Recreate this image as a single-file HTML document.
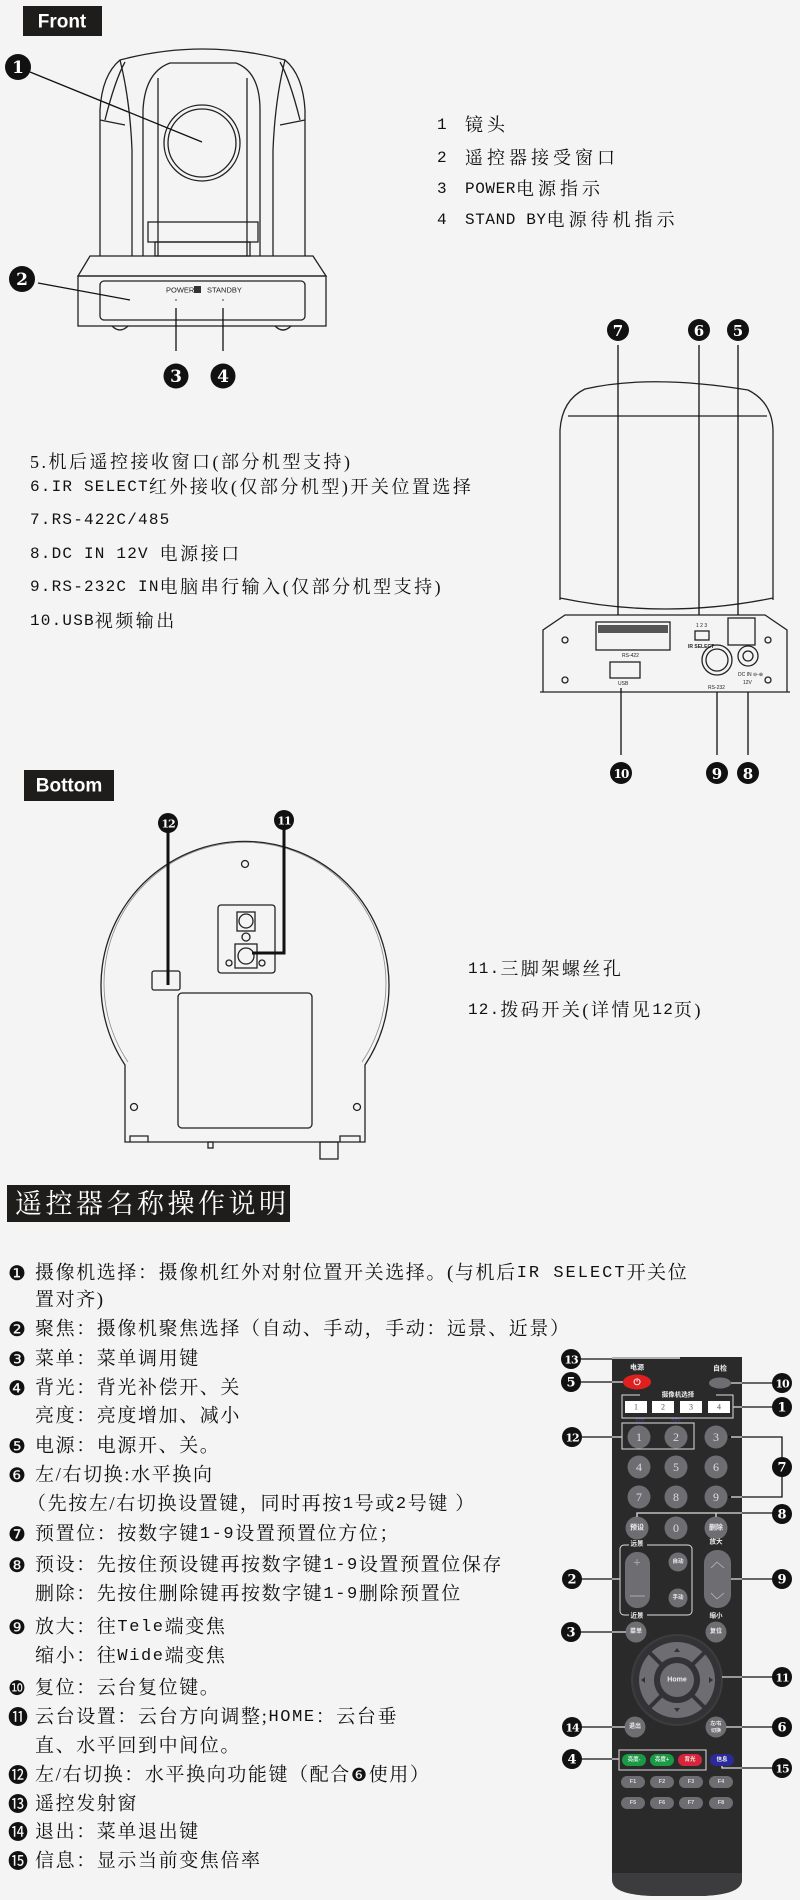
<!DOCTYPE html>
<html><head><meta charset="utf-8"><style>
html,body{margin:0;padding:0;background:#f4f4f4;}
svg{display:block;}
.cn{font-family:"Liberation Serif","Noto Serif CJK SC",serif;fill:#111;}
.m{font-family:"Liberation Mono","Noto Sans CJK SC",monospace;}
.t1{font-size:18px;letter-spacing:4px;}
.t2{font-size:18px;letter-spacing:2.5px;}
.ins{font-family:"Liberation Serif","Noto Serif CJK SC",serif;font-size:19px;letter-spacing:1.6px;fill:#111;}
.bul{font-family:"DejaVu Sans",sans-serif;font-size:20px;fill:#111;}
.sm{font-family:"Liberation Sans",sans-serif;fill:#222;}
.mk{fill:#111;}
.mt{font-family:"DejaVu Serif",serif;font-weight:bold;fill:#fff;text-anchor:middle;}
.bt{fill:#6d6d72;}
.btx{font-family:"Liberation Sans","Noto Sans CJK SC",sans-serif;fill:#eee;text-anchor:middle;font-weight:bold;}
</style></head><body>
<svg width="800" height="1900" viewBox="0 0 800 1900" xmlns="http://www.w3.org/2000/svg" dominant-baseline="central">
<rect width="800" height="1900" fill="#f4f4f4"/>

<!-- FRONT -->
<rect x="23" y="6" width="79" height="30" fill="#1f1d1b"/>
<text x="62" y="22" text-anchor="middle" font-family="Liberation Sans,sans-serif" font-weight="bold" font-size="19" fill="#fff">Front</text>
<g fill="none" stroke="#222" stroke-width="1.3">
<path d="M100,256 L100,110 Q102,75 120,60 Q203,38 285,60 Q303,75 305,110 L305,256"/>
<path d="M105,120 Q115,80 125,62 M300,120 Q290,80 280,62"/>
<path d="M132,256 L132,150 Q130,100 120,60 M273,256 L273,150 Q275,100 285,60"/>
<path d="M143,256 L143,110 Q145,72 170,63 L236,63 Q260,72 260,110 L260,256"/>
<path d="M158,256 L158,78 M247,256 L247,78"/>
<path d="M100,120 L125,125 M305,120 L280,125"/>
<circle cx="202" cy="143" r="38"/><circle cx="202" cy="143" r="34"/>
<rect x="148" y="222" width="110" height="20"/>
<rect x="155" y="242" width="95" height="14"/>
<path d="M90,256 L313,256 L326,276 L78,276 Z"/>
<rect x="78" y="276" width="248" height="50"/>
<rect x="100" y="281" width="205" height="39" rx="4"/>
<path d="M112,326 Q120,334 128,326 M275,326 Q283,334 291,326"/>
</g>
<text x="166" y="290" class="sm" font-size="7.5">POWER</text>
<rect x="194" y="286" width="7" height="7" fill="#333"/>
<text x="207" y="290" class="sm" font-size="7.5">STANDBY</text>
<g stroke="#111" stroke-width="1.3">
<line x1="30" y1="72" x2="202" y2="142"/>
<line x1="38" y1="283" x2="130" y2="300"/>
<line x1="176" y1="308" x2="176" y2="351"/>
<line x1="223" y1="308" x2="223" y2="351"/>
</g>
<circle cx="176" cy="300" r="0.8" fill="#333"/><circle cx="223" cy="300" r="0.8" fill="#333"/>
<circle cx="18" cy="67" r="13" class="mk"/><text x="18" y="68" class="mt" font-size="17" font-weight="normal">1</text>
<circle cx="22" cy="279" r="13" class="mk"/><text x="22" y="280" class="mt" font-size="17" font-weight="normal">2</text>
<circle cx="176" cy="376" r="12.5" class="mk"/><text x="176" y="377" class="mt" font-size="17" font-weight="normal">3</text>
<circle cx="223" cy="376" r="12.5" class="mk"/><text x="223" y="377" class="mt" font-size="17" font-weight="normal">4</text>

<text x="437" y="125" class="cn m" font-size="16">1</text><text x="465" y="125" class="cn t1">镜头</text>
<text x="437" y="158" class="cn m" font-size="16">2</text><text x="465" y="158" class="cn t1">遥控器接受窗口</text>
<text x="437" y="189" class="cn m" font-size="16">3</text><text x="465" y="189" class="cn t1"><tspan class="m" font-size="16" letter-spacing="0.6">POWER</tspan>电源指示</text>
<text x="437" y="220" class="cn m" font-size="16">4</text><text x="465" y="220" class="cn t1"><tspan class="m" font-size="16" letter-spacing="0.6">STAND BY</tspan>电源待机指示</text>

<!-- REAR -->
<g fill="none" stroke="#222" stroke-width="1.3">
<path d="M560,600 L560,430 Q562,400 585,389 Q650,374 748,390 Q772,402 773,430 L773,600"/>
<path d="M568,416 L767,416"/>
<path d="M560,598 Q666,620 773,598"/>
<path d="M543,692 L543,630 L565,615 L765,615 L787,630 L787,692"/>
<path d="M540,692 L790,692"/>
<rect x="596" y="622" width="74" height="28"/>
<rect x="695" y="631" width="14" height="9"/>
<rect x="728" y="618" width="27" height="27"/>
<rect x="610" y="662" width="30" height="16"/>
<circle cx="717" cy="660" r="15"/><circle cx="717" cy="660" r="11"/>
<circle cx="748" cy="656" r="10"/><circle cx="748" cy="656" r="5"/>
<circle cx="565" cy="640" r="3"/><circle cx="768" cy="640" r="3"/>
<circle cx="565" cy="680" r="3"/><circle cx="768" cy="680" r="3"/>
</g>
<g fill="#555"><rect x="598" y="625" width="70" height="8"/></g>
<text x="622" y="656" class="sm" font-size="5">RS-422</text>
<text x="696" y="626" class="sm" font-size="5">1 2 3</text>
<text x="688" y="647" class="sm" font-size="5" font-weight="bold">IR SELECT</text>
<text x="618" y="684" class="sm" font-size="5">USB</text>
<text x="708" y="688" class="sm" font-size="5">RS-232</text>
<text x="738" y="675" class="sm" font-size="5">DC IN ⊖-⊕</text>
<text x="743" y="683" class="sm" font-size="5">12V</text>
<g stroke="#111" stroke-width="1.3">
<line x1="618" y1="345" x2="618" y2="615"/>
<line x1="699" y1="345" x2="699" y2="615"/>
<line x1="738" y1="345" x2="738" y2="615"/>
<line x1="621" y1="688" x2="621" y2="755"/>
<line x1="717" y1="692" x2="717" y2="755"/>
<line x1="748" y1="692" x2="748" y2="755"/>
</g>
<g>
<circle cx="618" cy="330" r="11" class="mk"/><text x="618" y="331" class="mt" font-size="15">7</text>
<circle cx="699" cy="330" r="11" class="mk"/><text x="699" y="331" class="mt" font-size="15">6</text>
<circle cx="738" cy="330" r="11" class="mk"/><text x="738" y="331" class="mt" font-size="15">5</text>
<circle cx="621" cy="773" r="11" class="mk"/><text x="621" y="774" class="mt" font-size="12" letter-spacing="-1">10</text>
<circle cx="717" cy="773" r="11" class="mk"/><text x="717" y="774" class="mt" font-size="15">9</text>
<circle cx="748" cy="773" r="11" class="mk"/><text x="748" y="774" class="mt" font-size="15">8</text>
</g>

<text x="30" y="462" class="cn t2">5.机后遥控接收窗口(部分机型支持)</text>
<text x="30" y="487" class="cn t2"><tspan class="m" font-size="16" letter-spacing="1.2">6.IR SELECT</tspan>红外接收(仅部分机型)开关位置选择</text>
<text x="30" y="520" class="cn t2"><tspan class="m" font-size="16" letter-spacing="1.2">7.RS-422C/485</tspan></text>
<text x="30" y="554" class="cn t2"><tspan class="m" font-size="16" letter-spacing="1.2">8.DC IN 12V </tspan>电源接口</text>
<text x="30" y="587" class="cn t2"><tspan class="m" font-size="16" letter-spacing="1.2">9.RS-232C IN</tspan>电脑串行输入(仅部分机型支持)</text>
<text x="30" y="621" class="cn t2"><tspan class="m" font-size="16" letter-spacing="1.2">10.USB</tspan>视频输出</text>

<!-- BOTTOM -->
<rect x="24" y="770" width="90" height="31" fill="#1f1d1b"/>
<text x="69" y="786" text-anchor="middle" font-family="Liberation Sans,sans-serif" font-weight="bold" font-size="19" fill="#fff">Bottom</text>
<g fill="none" stroke="#222" stroke-width="1.3">
<path d="M125,1142 L125,1065 A144,144 0 1 1 365,1065 L365,1142 Z"/>
<path d="M128,1062 A141,141 0 1 1 362,1062" stroke="#888" stroke-width="0.8"/>
<rect x="218" y="905" width="57" height="68" rx="3"/>
<rect x="237" y="912" width="18" height="19"/><circle cx="246" cy="921" r="7"/>
<circle cx="246" cy="937" r="4"/>
<rect x="235" y="944" width="22" height="24"/><circle cx="246" cy="956" r="8"/>
<circle cx="229" cy="963" r="3"/><circle cx="262" cy="963" r="3"/>
<rect x="152" y="971" width="28" height="19" rx="2"/>
<rect x="178" y="993" width="134" height="135" rx="4"/>
<circle cx="134" cy="1107" r="3.5"/><circle cx="357" cy="1107" r="3.5"/><circle cx="245" cy="864" r="3.5"/>
<path d="M130,1142 L130,1136 L148,1136 L148,1142 M340,1142 L340,1136 L360,1136 L360,1142"/>
<rect x="320" y="1142" width="18" height="17"/>
<rect x="208" y="1142" width="5" height="6"/>
</g>
<g stroke="#111" stroke-width="3" fill="none">
<line x1="168" y1="830" x2="168" y2="985"/>
<path d="M284,828 L284,953 L252,953"/>
</g>
<circle cx="168" cy="823" r="10" class="mk"/><text x="168" y="824" class="mt" font-size="11" letter-spacing="-1">12</text>
<circle cx="284" cy="820" r="10" class="mk"/><text x="284" y="821" class="mt" font-size="11" letter-spacing="-1">11</text>

<text x="468" y="969" class="cn t2"><tspan class="m" font-size="16" letter-spacing="1.2">11.</tspan>三脚架螺丝孔</text>
<text x="468" y="1010" class="cn t2"><tspan class="m" font-size="16" letter-spacing="1.2">12.</tspan>拨码开关(详情见<tspan class="m" font-size="16" letter-spacing="1.2">12</tspan>页)</text>

<!-- HEADER -->
<rect x="7" y="1185" width="283" height="37" fill="#1f1d1b"/>
<text x="15" y="1204" font-family="Liberation Serif,'Noto Serif CJK SC',serif" font-size="27" letter-spacing="3.5" fill="#fff">遥控器名称操作说明</text>

<!-- INSTRUCTIONS -->
<g>
<text x="8" y="1273" class="bul">❶</text><text x="35" y="1273" class="ins">摄像机选择：摄像机红外对射位置开关选择。(与机后<tspan class="m" font-size="17" letter-spacing="2">IR SELECT</tspan>开关位</text>
<text x="35" y="1300" class="ins">置对齐)</text>
<text x="8" y="1329" class="bul">❷</text><text x="35" y="1329" class="ins">聚焦：摄像机聚焦选择（自动、手动，手动：远景、近景）</text>
<text x="8" y="1359" class="bul">❸</text><text x="35" y="1359" class="ins">菜单：菜单调用键</text>
<text x="8" y="1388" class="bul">❹</text><text x="35" y="1388" class="ins">背光：背光补偿开、关</text>
<text x="35" y="1416" class="ins">亮度：亮度增加、减小</text>
<text x="8" y="1446" class="bul">❺</text><text x="35" y="1446" class="ins">电源：电源开、关。</text>
<text x="8" y="1475" class="bul">❻</text><text x="35" y="1475" class="ins">左/右切换:水平换向</text>
<text x="27" y="1504" class="ins">（先按左/右切换设置键，同时再按<tspan class="m" font-size="17">1</tspan>号或<tspan class="m" font-size="17">2</tspan>号键 ）</text>
<text x="8" y="1534" class="bul">❼</text><text x="35" y="1534" class="ins">预置位：按数字键<tspan class="m" font-size="17">1-9</tspan>设置预置位方位；</text>
<text x="8" y="1565" class="bul">❽</text><text x="35" y="1565" class="ins">预设：先按住预设键再按数字键<tspan class="m" font-size="17">1-9</tspan>设置预置位保存</text>
<text x="35" y="1594" class="ins">删除：先按住删除键再按数字键<tspan class="m" font-size="17">1-9</tspan>删除预置位</text>
<text x="8" y="1627" class="bul">❾</text><text x="35" y="1627" class="ins">放大：往<tspan class="m" font-size="17">Tele</tspan>端变焦</text>
<text x="35" y="1656" class="ins">缩小：往<tspan class="m" font-size="17">Wide</tspan>端变焦</text>
<text x="8" y="1688" class="bul">❿</text><text x="35" y="1688" class="ins">复位：云台复位键。</text>
<text x="8" y="1717" class="bul">⓫</text><text x="35" y="1717" class="ins">云台设置：云台方向调整;<tspan class="m" font-size="17">HOME</tspan>：云台垂</text>
<text x="35" y="1746" class="ins">直、水平回到中间位。</text>
<text x="8" y="1775" class="bul">⓬</text><text x="35" y="1775" class="ins">左/右切换：水平换向功能键（配合<tspan font-family="DejaVu Sans,sans-serif" font-size="18">❻</tspan>使用）</text>
<text x="8" y="1804" class="bul">⓭</text><text x="35" y="1804" class="ins">遥控发射窗</text>
<text x="8" y="1832" class="bul">⓮</text><text x="35" y="1832" class="ins">退出：菜单退出键</text>
<text x="8" y="1861" class="bul">⓯</text><text x="35" y="1861" class="ins">信息：显示当前变焦倍率</text>
</g>

<!-- REMOTE -->
<path d="M612,1357 L742,1357 L742,1878 Q742,1895 700,1896 L654,1896 Q612,1895 612,1878 Z" fill="#2a2a2b"/>
<path d="M612,1873 L742,1873 L742,1880 Q742,1895 700,1896 L654,1896 Q612,1895 612,1880 Z" fill="#3c3c3e"/>
<line x1="612" y1="1358" x2="680" y2="1358" stroke="#ddd" stroke-width="1.5"/>
<text x="637" y="1368" class="btx" font-size="7">电源</text>
<text x="720" y="1369" class="btx" font-size="7">自检</text>
<ellipse cx="637" cy="1382" rx="14" ry="7.5" fill="#e0201f"/>
<text x="637" y="1382" class="btx" font-size="9" fill="#fff">⏻</text>
<ellipse cx="720" cy="1383" rx="11" ry="5.5" class="bt"/>
<rect x="622" y="1395" width="111" height="23" fill="none" stroke="#ddd" stroke-width="1"/>
<rect x="640" y="1392" width="76" height="6" fill="#2a2a2b"/>
<text x="678" y="1395" class="btx" font-size="6.5">摄像机选择</text>
<g fill="#fff"><rect x="625" y="1401" width="22" height="12"/><rect x="652" y="1401" width="22" height="12"/><rect x="680" y="1401" width="22" height="12"/><rect x="708" y="1401" width="22" height="12"/></g>
<g font-family="Liberation Serif,serif" font-size="8" fill="#555" text-anchor="middle"><text x="636" y="1407">1</text><text x="663" y="1407">2</text><text x="691" y="1407">3</text><text x="719" y="1407">4</text></g>
<text x="640" y="1420" font-family="Liberation Sans,sans-serif" font-size="4.5" fill="#44a" text-anchor="middle">STD</text>
<text x="676" y="1420" font-family="Liberation Sans,sans-serif" font-size="4.5" fill="#44a" text-anchor="middle">REV</text>
<rect x="622" y="1423" width="72" height="26" fill="none" stroke="#ddd" stroke-width="1"/>
<g class="bt">
<circle cx="639" cy="1437" r="11.5"/><circle cx="676" cy="1437" r="11.5"/><circle cx="716" cy="1437" r="11.5"/>
<circle cx="639" cy="1467" r="11.5"/><circle cx="676" cy="1467" r="11.5"/><circle cx="716" cy="1467" r="11.5"/>
<circle cx="639" cy="1497" r="11.5"/><circle cx="676" cy="1497" r="11.5"/><circle cx="716" cy="1497" r="11.5"/>
<circle cx="637" cy="1528" r="11.5"/><circle cx="676" cy="1528" r="11.5"/><circle cx="716" cy="1528" r="11.5"/>
</g>
<g font-family="Liberation Serif,serif" font-size="12" fill="#ddd" text-anchor="middle">
<text x="639" y="1437">1</text><text x="676" y="1437">2</text><text x="716" y="1437">3</text>
<text x="639" y="1467">4</text><text x="676" y="1467">5</text><text x="716" y="1467">6</text>
<text x="639" y="1497">7</text><text x="676" y="1497">8</text><text x="716" y="1497">9</text>
<text x="676" y="1528">0</text></g>
<text x="637" y="1528" class="btx" font-size="7">预设</text><text x="716" y="1528" class="btx" font-size="7">删除</text>
<rect x="620" y="1545" width="72" height="70" rx="4" fill="none" stroke="#ddd" stroke-width="1"/>
<rect x="629" y="1540" width="18" height="8" fill="#2a2a2b"/><rect x="629" y="1612" width="18" height="8" fill="#2a2a2b"/>
<text x="637" y="1544" class="btx" font-size="6.5">远景</text><text x="637" y="1616" class="btx" font-size="6.5">近景</text>
<text x="716" y="1542" class="btx" font-size="6.5">放大</text><text x="716" y="1616" class="btx" font-size="6.5">缩小</text>
<rect x="625" y="1552" width="25" height="56" rx="12" class="bt"/>
<text x="637" y="1562" font-family="Liberation Sans,sans-serif" font-size="13" fill="#aaa" text-anchor="middle">+</text>
<line x1="630" y1="1596" x2="645" y2="1596" stroke="#aaa"/>
<circle cx="678" cy="1562" r="9.5" class="bt"/><circle cx="678" cy="1598" r="9.5" class="bt"/>
<text x="678" y="1562" class="btx" font-size="5.5">自动</text><text x="678" y="1598" class="btx" font-size="5.5">手动</text>
<rect x="704" y="1550" width="27" height="58" rx="13" class="bt"/>
<path d="M711,1568 L717,1562 L724,1568 M711,1593 L717,1599 L724,1593" stroke="#aaa" fill="none"/>
<circle cx="636" cy="1632" r="10.5" class="bt"/><circle cx="716" cy="1632" r="10.5" class="bt"/>
<text x="636" y="1632" class="btx" font-size="6">菜单</text><text x="716" y="1632" class="btx" font-size="6">复位</text>
<circle cx="677" cy="1680" r="45" fill="#333335" stroke="#3d3d40" stroke-width="2"/>
<circle cx="677" cy="1680" r="38" class="bt"/>
<g stroke="#333335" stroke-width="4"><line x1="650" y1="1653" x2="704" y2="1707"/><line x1="704" y1="1653" x2="650" y2="1707"/></g>
<circle cx="677" cy="1680" r="23" fill="#333335"/>
<circle cx="677" cy="1680" r="17" class="bt"/>
<text x="677" y="1680" class="btx" font-size="7">Home</text>
<g fill="#333"><path d="M674,1652 L680,1652 L677,1648Z"/><path d="M674,1708 L680,1708 L677,1712Z"/><path d="M645,1677 L645,1683 L641,1680Z"/><path d="M709,1677 L709,1683 L713,1680Z"/></g>
<circle cx="635" cy="1727" r="10.5" class="bt"/><circle cx="716" cy="1727" r="10.5" class="bt"/>
<text x="635" y="1727" class="btx" font-size="6">退出</text>
<text x="716" y="1724" class="btx" font-size="5">左/右</text><text x="716" y="1731" class="btx" font-size="5">切换</text>
<rect x="619" y="1750" width="87" height="20" fill="none" stroke="#ddd" stroke-width="1"/>
<rect x="622" y="1754" width="24" height="12" rx="6" fill="#1a9a45"/><rect x="650" y="1754" width="24" height="12" rx="6" fill="#1a9a45"/>
<rect x="678" y="1754" width="24" height="12" rx="6" fill="#d7263a"/><rect x="710" y="1754" width="24" height="12" rx="6" fill="#2a2a9a"/>
<text x="634" y="1760" class="btx" font-size="5.5">亮度-</text><text x="662" y="1760" class="btx" font-size="5.5">亮度+</text>
<text x="690" y="1760" class="btx" font-size="5.5">背光</text><text x="722" y="1760" class="btx" font-size="5.5">信息</text>
<g class="bt">
<rect x="621" y="1776" width="24" height="12" rx="6"/><rect x="650" y="1776" width="24" height="12" rx="6"/><rect x="679" y="1776" width="24" height="12" rx="6"/><rect x="709" y="1776" width="24" height="12" rx="6"/>
<rect x="621" y="1797" width="24" height="12" rx="6"/><rect x="650" y="1797" width="24" height="12" rx="6"/><rect x="679" y="1797" width="24" height="12" rx="6"/><rect x="709" y="1797" width="24" height="12" rx="6"/>
</g>
<g font-family="Liberation Sans,sans-serif" font-size="5.5" font-weight="bold" fill="#ddd" text-anchor="middle">
<text x="633" y="1782">F1</text><text x="662" y="1782">F2</text><text x="691" y="1782">F3</text><text x="721" y="1782">F4</text>
<text x="633" y="1803">F5</text><text x="662" y="1803">F6</text><text x="691" y="1803">F7</text><text x="721" y="1803">F8</text></g>

<!-- remote callouts -->
<g stroke="#111" stroke-width="1.3" fill="none">
<line x1="571" y1="1359" x2="612" y2="1359"/>
<line x1="571" y1="1382" x2="623" y2="1382"/>
<line x1="731" y1="1383" x2="782" y2="1383"/>
<line x1="733" y1="1407" x2="782" y2="1407"/>
<line x1="572" y1="1437" x2="622" y2="1437"/>
<path d="M728,1437 L782,1437 L782,1497 L728,1497"/>
<line x1="572" y1="1579" x2="620" y2="1579"/>
<line x1="731" y1="1579" x2="782" y2="1579"/>
<line x1="571" y1="1632" x2="626" y2="1632"/>
<line x1="722" y1="1677" x2="782" y2="1677"/>
<line x1="572" y1="1727" x2="625" y2="1727"/>
<line x1="726" y1="1727" x2="782" y2="1727"/>
<line x1="572" y1="1759" x2="619" y2="1759"/>
</g>
<g stroke="#ddd" stroke-width="1.3" fill="none">
<path d="M637,1517 L637,1513 L742,1513 M716,1513 L716,1517"/>
<path d="M722,1766 L722,1768 L742,1768"/>
<line x1="731" y1="1437" x2="742" y2="1437"/><line x1="731" y1="1497" x2="742" y2="1497"/>
<line x1="733" y1="1407" x2="742" y2="1407"/><line x1="731" y1="1383" x2="742" y2="1383"/>
<line x1="731" y1="1579" x2="742" y2="1579"/><line x1="722" y1="1677" x2="742" y2="1677"/>
<line x1="726" y1="1727" x2="742" y2="1727"/>
<line x1="612" y1="1382" x2="623" y2="1382"/><line x1="612" y1="1437" x2="622" y2="1437"/>
<line x1="612" y1="1579" x2="620" y2="1579"/><line x1="612" y1="1632" x2="626" y2="1632"/>
<line x1="612" y1="1727" x2="625" y2="1727"/><line x1="612" y1="1759" x2="619" y2="1759"/>
</g>
<g stroke="#111" stroke-width="1.3"><line x1="742" y1="1513" x2="782" y2="1513"/><line x1="742" y1="1768" x2="782" y2="1768"/></g>
<g>
<circle cx="571" cy="1359" r="10" class="mk"/><text x="571" y="1360" class="mt" font-size="11" letter-spacing="-1">13</text>
<circle cx="571" cy="1382" r="10" class="mk"/><text x="571" y="1383" class="mt" font-size="13">5</text>
<circle cx="782" cy="1383" r="10" class="mk"/><text x="782" y="1384" class="mt" font-size="11" letter-spacing="-1">10</text>
<circle cx="782" cy="1407" r="10" class="mk"/><text x="782" y="1408" class="mt" font-size="13">1</text>
<circle cx="572" cy="1437" r="10" class="mk"/><text x="572" y="1438" class="mt" font-size="11" letter-spacing="-1">12</text>
<circle cx="782" cy="1467" r="10" class="mk"/><text x="782" y="1468" class="mt" font-size="13">7</text>
<circle cx="782" cy="1514" r="10" class="mk"/><text x="782" y="1515" class="mt" font-size="13">8</text>
<circle cx="572" cy="1579" r="10" class="mk"/><text x="572" y="1580" class="mt" font-size="13">2</text>
<circle cx="782" cy="1579" r="10" class="mk"/><text x="782" y="1580" class="mt" font-size="13">9</text>
<circle cx="571" cy="1632" r="10" class="mk"/><text x="571" y="1633" class="mt" font-size="13">3</text>
<circle cx="782" cy="1677" r="10" class="mk"/><text x="782" y="1678" class="mt" font-size="11" letter-spacing="-1">11</text>
<circle cx="572" cy="1727" r="10" class="mk"/><text x="572" y="1728" class="mt" font-size="11" letter-spacing="-1">14</text>
<circle cx="782" cy="1727" r="10" class="mk"/><text x="782" y="1728" class="mt" font-size="13">6</text>
<circle cx="572" cy="1759" r="10" class="mk"/><text x="572" y="1760" class="mt" font-size="13">4</text>
<circle cx="782" cy="1768" r="10" class="mk"/><text x="782" y="1769" class="mt" font-size="11" letter-spacing="-1">15</text>
</g>
</svg>
</body></html>
